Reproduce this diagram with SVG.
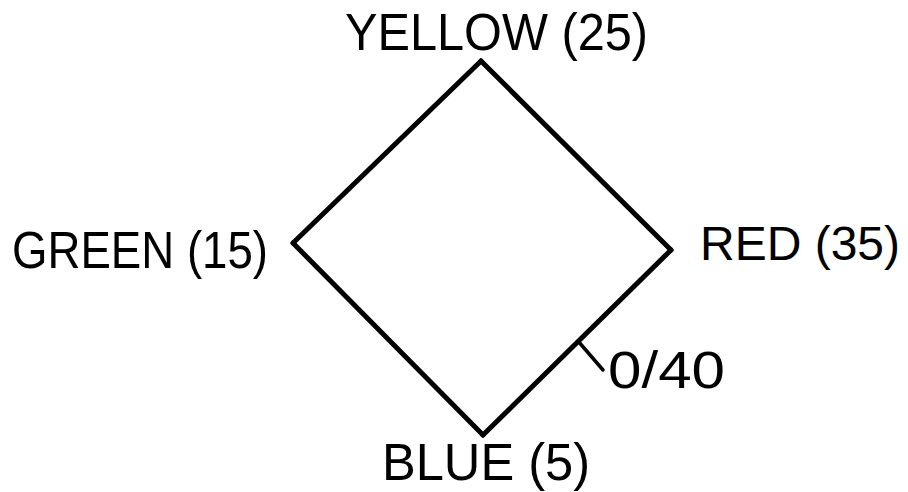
<svg xmlns="http://www.w3.org/2000/svg" width="908" height="492" viewBox="0 0 908 492">
<style>
.lbl{font-family:"Liberation Sans","DejaVu Sans",sans-serif;font-size:51px;fill:#000}
.edge{stroke:#000;stroke-width:5;fill:none;stroke-linecap:round;stroke-linejoin:round}
.tick{stroke:#000;stroke-width:3.5;fill:none;stroke-linecap:round}
</style>
<rect width="908" height="492" fill="#fff"/>
<g id="connectors">
<line class="edge" x1="481" y1="61" x2="671" y2="250"/>
<line class="edge" x1="671" y1="250" x2="483" y2="435"/>
<line class="edge" x1="483" y1="435" x2="293" y2="243"/>
<line class="edge" x1="293" y1="243" x2="481" y2="61"/>
<line class="tick" x1="578" y1="341" x2="603" y2="370"/>
<text class="lbl" x="608" y="388" textLength="117" lengthAdjust="spacingAndGlyphs">0/40</text>
</g>
<g id="yellow"><text class="lbl" x="345" y="50" textLength="303" lengthAdjust="spacingAndGlyphs">YELLOW (25)</text></g>
<g id="green"><text class="lbl" x="12" y="268" textLength="256" lengthAdjust="spacingAndGlyphs">GREEN (15)</text></g>
<g id="red"><text class="lbl" x="700" y="260" style="font-size:48px">RED (35)</text></g>
<g id="blue"><text class="lbl" x="382" y="480" textLength="208" lengthAdjust="spacingAndGlyphs">BLUE (5)</text></g>
</svg>
